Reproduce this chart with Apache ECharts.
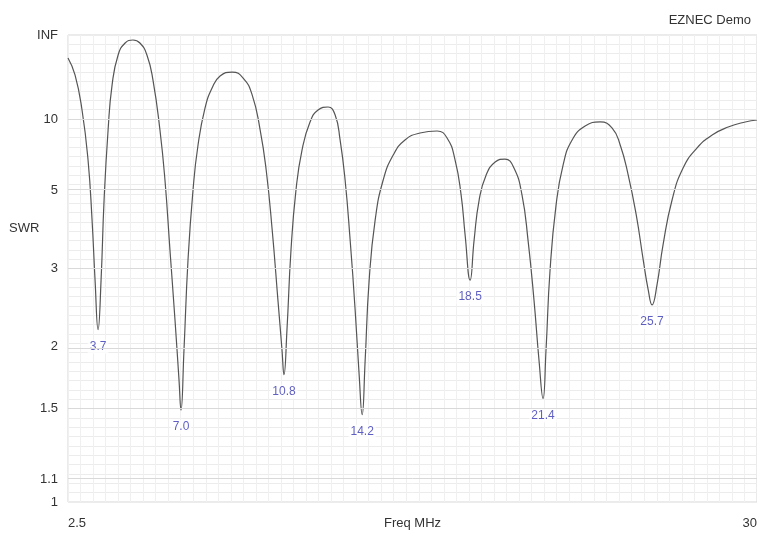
<!DOCTYPE html>
<html><head><meta charset="utf-8">
<script src="https://cdn.jsdelivr.net/npm/echarts@6/dist/echarts.min.js"></script>
<style>html,body{margin:0;padding:0;background:#fff}#c{width:757px;height:534px}</style>
</head><body><div id="c"></div>
<script>
// Frequency (MHz) and SWR
const freq = [2.50,2.78,3.06,3.30,3.46,3.58,3.70,3.82,3.94,4.10,4.26,4.50,4.78,5.09,5.37,5.65,5.89,6.17,6.37,6.57,6.77,6.93,7.01,7.13,7.29,7.49,7.69,7.97,8.25,8.57,9.05,9.49,9.85,10.17,10.41,10.65,10.88,11.04,11.12,11.24,11.40,11.60,11.84,12.16,12.48,12.88,13.16,13.36,13.56,13.76,13.96,14.12,14.24,14.36,14.52,14.76,15.08,15.48,15.95,16.55,17.23,17.63,17.95,18.19,18.35,18.55,18.71,18.91,19.19,19.55,19.94,20.30,20.62,20.86,21.10,21.30,21.46,21.58,21.74,21.98,22.26,22.62,23.14,23.74,24.22,24.54,24.86,25.18,25.46,25.66,25.81,26.01,26.25,26.61,27.05,27.61,28.21,28.85,29.53,30.00];
const swr = [39.6,22.4,11.45,6.47,4.05,2.81,2.17,2.81,4.66,8.83,17.7,45.7,115.8,185.8,115.8,45.7,19.8,8.83,5.44,3.34,2.28,1.71,1.49,1.97,3.15,5.03,7.49,11.8,16.6,21.8,24.2,20.7,14.6,8.83,5.92,3.79,2.52,1.97,1.75,2.17,3.34,5.03,7.12,9.74,11.45,11.97,10.7,7.90,5.44,3.56,2.40,1.75,1.46,1.87,2.81,4.05,5.44,6.78,7.90,8.53,8.73,8.07,6.47,4.84,3.67,2.81,3.56,4.66,5.67,6.35,6.53,6.02,4.84,3.56,2.52,1.87,1.57,1.97,2.97,4.49,6.18,7.90,9.26,9.74,9.04,7.49,5.67,4.19,3.15,2.66,2.46,2.74,3.45,4.66,6.02,7.27,8.34,9.15,9.74,9.99];
// SWR minima and their labels
const dipFreq = [3.70,7.01,11.12,14.24,18.55,21.46,25.81];
const dipSwr = [2.17,1.49,1.75,1.46,2.81,1.57,2.46];
const dipLabels = ['3.7','7.0','10.8','14.2','18.5','21.4','25.7'];
// Y tick marks (SWR) and labels
const swrTicks = [1,1.1,1.5,2,3,5,10,Infinity];
const swrTickLabels = ['1','1.1','1.5','2','3','5','10','INF'];
// X tick labels
const xTicks = [2.5,30];

const rho = s => (s === Infinity ? 1 : (s - 1) / (s + 1));
const tickRho = swrTicks.map(rho);
const lineData = freq.map((f,i)=>[f, rho(swr[i])]);
const dipData = dipFreq.map((f,i)=>({value:[f, rho(dipSwr[i])], name: dipLabels[i]}));

const chart = echarts.init(document.getElementById('c'));
chart.setOption({
  animation:false,
  textStyle:{fontFamily:'Liberation Sans, Arial, sans-serif'},
  title:{text:'EZNEC Demo', right:1, top:9, textStyle:{fontSize:13, fontWeight:'normal', color:'#333', fontFamily:'Liberation Sans'}},
  grid:{left:68, right:0, top:35, bottom:32, outerBoundsMode:'none', containLabel:false, show:true, borderColor:'#d6d6d6', borderWidth:1, backgroundColor:'#fff'},
  graphic:[{type:'text', left:9, top:222, style:{text:'SWR', fontSize:13, fill:'#333', fontFamily:'Liberation Sans'}}],
  xAxis:{type:'value', min:2.5, max:30, interval:0.5,
    name:'Freq MHz', nameLocation:'middle', nameGap:15, nameMoveOverlap:false,
    nameTextStyle:{fontSize:13, color:'#333'},
    axisLine:{show:false}, axisTick:{show:false},
    axisLabel:{customValues:xTicks, fontSize:13, color:'#333', margin:15, alignMinLabel:'left', alignMaxLabel:'right',
      formatter:v=>String(v)},
    splitLine:{show:true, lineStyle:{color:'#f0f0f0', width:1}}
  },
  yAxis:{type:'value', min:0, max:1, interval:0.02,
    axisLine:{show:false}, axisTick:{show:false},
    axisLabel:{customValues:tickRho, fontSize:13, color:'#333', margin:10,
      formatter:v=>{let b=0,d=9;tickRho.forEach((t,i)=>{if(Math.abs(t-v)<d){d=Math.abs(t-v);b=i;}});return swrTickLabels[b];}},
    splitLine:{show:true, lineStyle:{color:'#ececec', width:1}}
  },
  series:[
    {type:'line', data:lineData, showSymbol:false, smooth:0.5,
      lineStyle:{color:'#555', width:1.2}, silent:true, z:3,
      markLine:{silent:true, symbol:'none', label:{show:false},
        lineStyle:{color:'#d9d9d9', type:'solid', width:1},
        data: tickRho.slice(1,-1).map(r=>({yAxis:r}))}
    },
    {type:'scatter', data:dipData, symbolSize:0, silent:true, z:4,
      label:{show:true, position:'bottom', distance:10, formatter:p=>p.name, fontSize:12, color:'#3636b4',
        backgroundColor:'#fff', padding:[1,2]}}
  ]
});
</script></body></html>
